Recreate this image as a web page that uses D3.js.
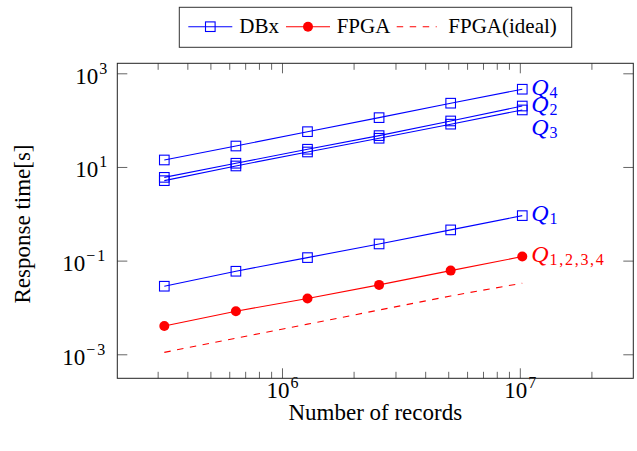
<!DOCTYPE html>
<html>
<head>
<meta charset="utf-8">
<script src="https://cdn.jsdelivr.net/npm/d3@7"></script>
<style>
  body { margin: 0; background: #fff; }
  svg { display: block; }
  svg text { font-family: "Liberation Serif", "DejaVu Serif", serif; }
</style>
</head>
<body>
<svg width="637" height="451"></svg>
<script>
// number of records (x) and response times in seconds (y)
var records = [320000, 640000, 1280000, 2560000, 5120000, 10240000];
var dbxQ4 = [14.1, 28, 56.7, 113, 230, 457];
var dbxQ2 = [6.0, 12.0, 23.9, 46.7, 96, 200];
var dbxQ3 = [5.1, 10.5, 20.9, 41, 82, 165];
var dbxQ1 = [0.0284, 0.0593, 0.116, 0.227, 0.453, 0.914];
var fpga = [0.00403, 0.0083, 0.0155, 0.0303, 0.0612, 0.122];
var fpgaIdeal = [0.0011, 0.0022, 0.0044, 0.0088, 0.0176, 0.033];

var xMajor = [1e6, 1e7];
var xMinor = [3e5, 4e5, 5e5, 6e5, 7e5, 8e5, 9e5, 2e6, 3e6, 4e6, 5e6, 6e6, 7e6, 8e6, 9e6, 2e7];
var yMajor = [1e-3, 1e-1, 1e1, 1e3];

var legendNames = ["DBx", "FPGA", "FPGA(ideal)"];
var endLabels = [
  {name: "Q", sub: "4", series: dbxQ4, color: "#0000ff", shift: 0},
  {name: "Q", sub: "2", series: dbxQ2, color: "#0000ff", shift: 0},
  {name: "Q", sub: "3", series: dbxQ2, color: "#0000ff", shift: 23},
  {name: "Q", sub: "1", series: dbxQ1, color: "#0000ff", shift: 0},
  {name: "Q", sub: "1,2,3,4", series: fpga, color: "#ff0000", shift: 0}
];

var width = 637;
var height = 451;
var margin = {left: 117.3, right: 3.7, top: 63.3, bottom: 72.7};

var x = d3.scaleLog().domain([2.03e5, 3.0e7]).range([margin.left, width - margin.right]);
var y = d3.scaleLog().domain([3.07e-4, 1635]).range([height - margin.bottom, margin.top]);

var svg = d3.select("svg");

function supLabel(sel) {
  sel.each(function (d) {
    var t = d3.select(this);
    var e = Math.round(Math.log10(d));
    t.text(null).style("font-size", "23px").attr("fill", "#000");
    t.append("tspan").text("10");
    t.append("tspan").attr("dy", -10).attr("dx", 1).style("font-size", "16px")
      .style("letter-spacing", e < 0 ? "2px" : null)
      .text(e < 0 ? "\u2212" + (-e) : String(e));
  });
}

function styleTicks(g) {
  g.attr("font-family", null).attr("font-size", null);
  g.select(".domain").remove();
  g.selectAll(".tick line").attr("stroke", "#555").attr("stroke-width", 0.9);
}

// bottom axis
svg.append("g")
  .attr("transform", "translate(0," + (height - margin.bottom) + ")")
  .call(d3.axisBottom(x).tickValues(xMinor).tickSizeInner(-6.5).tickSizeOuter(0).tickFormat(""))
  .call(styleTicks);
var bottomMajor = svg.append("g")
  .attr("transform", "translate(0," + (height - margin.bottom) + ")")
  .call(d3.axisBottom(x).tickValues(xMajor).tickSizeInner(-10).tickSizeOuter(0).tickPadding(4))
  .call(styleTicks);
bottomMajor.selectAll(".tick text").attr("dy", null).attr("y", 20).call(supLabel);

// top axis
svg.append("g")
  .attr("transform", "translate(0," + margin.top + ")")
  .call(d3.axisTop(x).tickValues(xMinor).tickSizeInner(-6.5).tickSizeOuter(0).tickFormat(""))
  .call(styleTicks);
svg.append("g")
  .attr("transform", "translate(0," + margin.top + ")")
  .call(d3.axisTop(x).tickValues(xMajor).tickSizeInner(-10).tickSizeOuter(0).tickFormat(""))
  .call(styleTicks);

// left axis
var leftAxis = svg.append("g")
  .attr("transform", "translate(" + margin.left + ",0)")
  .call(d3.axisLeft(y).tickValues(yMajor).tickSizeInner(-10).tickSizeOuter(0).tickPadding(10))
  .call(styleTicks);
leftAxis.selectAll(".tick text").attr("dy", null).attr("y", 10).call(supLabel);

// right axis
svg.append("g")
  .attr("transform", "translate(" + (width - margin.right) + ",0)")
  .call(d3.axisRight(y).tickValues(yMajor).tickSizeInner(-10).tickSizeOuter(0).tickFormat(""))
  .call(styleTicks);

// frame
svg.append("rect")
  .attr("x", margin.left)
  .attr("y", margin.top)
  .attr("width", width - margin.left - margin.right)
  .attr("height", height - margin.top - margin.bottom)
  .attr("fill", "none")
  .attr("stroke", "#222")
  .attr("stroke-width", 1);

var line = d3.line()
  .x(function (d, i) { return x(records[i]); })
  .y(function (d) { return y(d); });

// DBx series
[dbxQ4, dbxQ2, dbxQ3, dbxQ1].forEach(function (s) {
  svg.append("path").attr("d", line(s)).attr("fill", "none")
    .attr("stroke", "#0000ff").attr("stroke-width", 1.1);
  svg.selectAll(null).data(s).enter().append("rect")
    .attr("x", function (d, i) { return x(records[i]) - 4.8; })
    .attr("y", function (d) { return y(d) - 4.8; })
    .attr("width", 9.6).attr("height", 9.6)
    .attr("fill", "none").attr("stroke", "#0000ff").attr("stroke-width", 1.1);
});

// FPGA (ideal)
svg.append("path").attr("d", line(fpgaIdeal)).attr("fill", "none")
  .attr("stroke", "#ff0000").attr("stroke-width", 1.1).attr("stroke-dasharray", "6.5,6.5");

// FPGA
svg.append("path").attr("d", line(fpga)).attr("fill", "none")
  .attr("stroke", "#ff0000").attr("stroke-width", 1.1);
svg.selectAll(null).data(fpga).enter().append("circle")
  .attr("cx", function (d, i) { return x(records[i]); })
  .attr("cy", function (d) { return y(d); })
  .attr("r", 5).attr("fill", "#ff0000");

// labels at the end of the lines
var last = records.length - 1;
endLabels.forEach(function (l) {
  var t = svg.append("text")
    .attr("x", x(records[last]) + 9)
    .attr("y", y(l.series[last]) + 5.5 + l.shift)
    .attr("fill", l.color)
    .style("font-size", "24px");
  t.append("tspan").style("font-style", "italic").text(l.name);
  t.append("tspan").attr("dy", 3).attr("dx", 1)
    .style("font-size", "16px").style("letter-spacing", "1.7px").text(l.sub);
});

// axis titles
svg.append("text")
  .attr("x", (margin.left + width - margin.right) / 2)
  .attr("y", 419.5)
  .style("text-anchor", "middle")
  .style("font-size", "23px")
  .text("Number of records");

svg.append("text")
  .attr("transform", "rotate(-90)")
  .attr("x", -224)
  .attr("y", 30)
  .style("text-anchor", "middle")
  .style("font-size", "23px")
  .text("Response time[s]");

// legend
var legend = svg.append("g");
legend.append("rect")
  .attr("x", 179.3).attr("y", 7.3).attr("width", 392.4).attr("height", 40)
  .attr("fill", "#fff").attr("stroke", "#333").attr("stroke-width", 1);

var legendX = [188.3, 286, 396.7];
var legendTextX = [239.3, 336.7, 448.3];
legendNames.forEach(function (name, i) {
  var lx = legendX[i];
  var ln = legend.append("line")
    .attr("x1", lx).attr("x2", lx + 44).attr("y1", 26.7).attr("y2", 26.7)
    .attr("stroke", i === 0 ? "#0000ff" : "#ff0000").attr("stroke-width", 1.1);
  if (i === 0) {
    legend.append("rect").attr("x", lx + 22 - 4.8).attr("y", 26.7 - 4.8)
      .attr("width", 9.6).attr("height", 9.6)
      .attr("fill", "none").attr("stroke", "#0000ff").attr("stroke-width", 1.1);
  } else if (i === 1) {
    legend.append("circle").attr("cx", lx + 22).attr("cy", 26.7).attr("r", 5).attr("fill", "#ff0000");
  } else {
    ln.attr("x1", lx).attr("x2", lx + 40).attr("stroke-dasharray", "6.5,6.5");
  }
  legend.append("text")
    .attr("x", legendTextX[i]).attr("y", 33.3)
    .style("font-size", "21px")
    .text(name);
});
</script>
</body>
</html>
